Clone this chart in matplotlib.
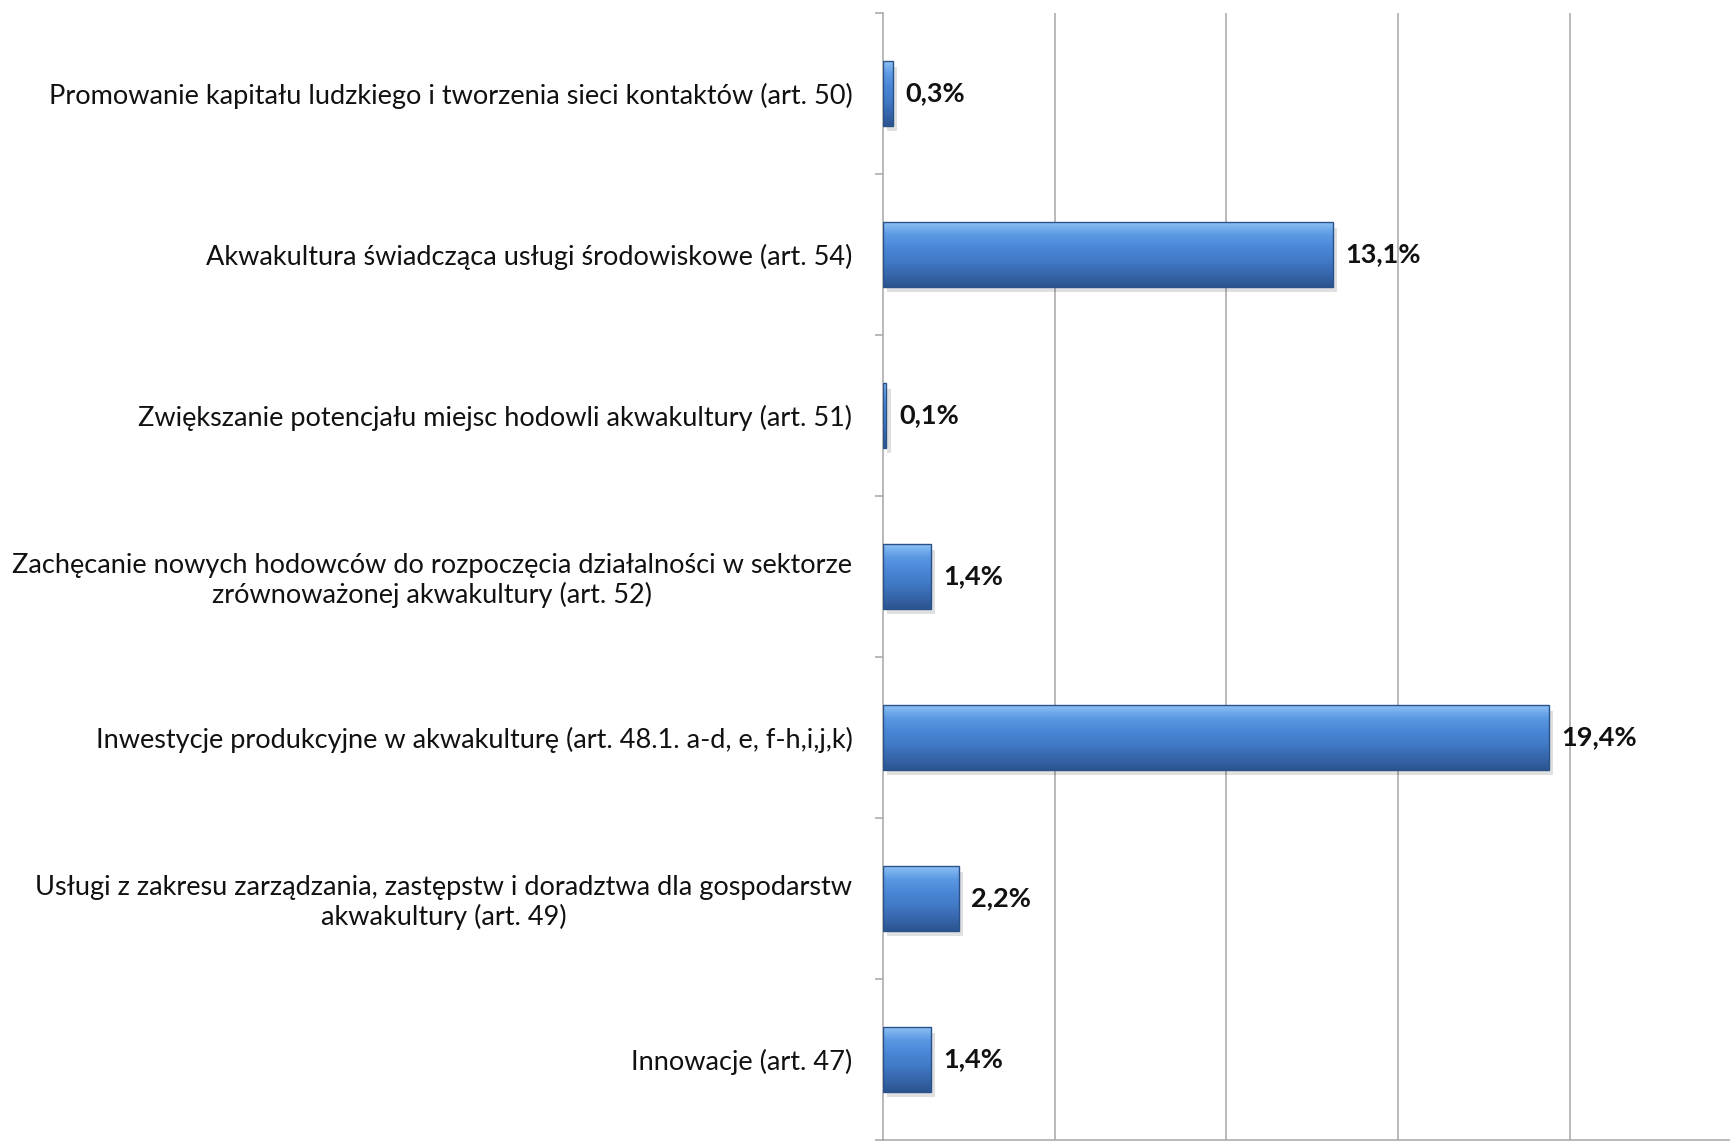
import numpy as np
import matplotlib
matplotlib.use("Agg")
import matplotlib.pyplot as plt
from matplotlib.colors import LinearSegmentedColormap
from matplotlib.patches import Rectangle

plt.rcParams["font.family"] = ["Lato", "DejaVu Sans"]

# data, top to bottom as in the chart
categories = [
    "Promowanie kapitału ludzkiego i tworzenia sieci kontaktów (art. 50)",
    "Akwakultura świadcząca usługi środowiskowe (art. 54)",
    "Zwiększanie potencjału miejsc hodowli akwakultury (art. 51)",
    "Zachęcanie nowych hodowców do rozpoczęcia działalności w sektorze\nzrównoważonej akwakultury (art. 52)",
    "Inwestycje produkcyjne w akwakulturę (art. 48.1. a-d, e, f-h,i,j,k)",
    "Usługi z zakresu zarządzania, zastępstw i doradztwa dla gospodarstw\nakwakultury (art. 49)",
    "Innowacje (art. 47)",
]
values = [0.3, 13.1, 0.1, 1.4, 19.4, 2.2, 1.4]
value_labels = ["0,3%", "13,1%", "0,1%", "1,4%", "19,4%", "2,2%", "1,4%"]

W, H = 1731, 1141
fig = plt.figure(figsize=(W / 100, H / 100), dpi=100)
x0, x25 = 883, 1741.5
top_px, bot_px = 13, 1140
ax = fig.add_axes([x0 / W, 1 - bot_px / H, (x25 - x0) / W, (bot_px - top_px) / H])

n = len(categories)
ypos = np.arange(n)[::-1]
bar_h = 0.4

cmap = LinearSegmentedColormap.from_list(
    "bevel", ["#8cc0f5", "#5a98e2", "#4a86d6", "#417ac6", "#3767ad", "#2c5590"])
grad = np.linspace(0, 1, 100).reshape(-1, 1)

for y, v, lab in zip(ypos, values, value_labels):
    # soft shadow
    ax.add_patch(Rectangle((0.12, y - bar_h / 2 - 0.035), v, bar_h, facecolor="#000000",
                           alpha=0.12, edgecolor="none", zorder=2))
    ax.imshow(grad, extent=[0, v, y - bar_h / 2, y + bar_h / 2], aspect="auto",
              cmap=cmap, origin="upper", zorder=3, interpolation="bilinear")
    ax.add_patch(Rectangle((0, y - bar_h / 2), v, bar_h, facecolor="none",
                           edgecolor="#2b5288", linewidth=1.0, zorder=4))
    ax.annotate(lab, (v, y), xytext=(9, 0), textcoords="offset points",
                ha="left", va="center", fontsize=19.5, fontweight="bold", color="#111111")

ax.set_xlim(0, 25)
ax.set_ylim(-0.5, n - 0.5)
ax.set_xticks([5, 10, 15, 20])
ax.xaxis.grid(True, color="#a6a6a6", linewidth=1.1)
ax.set_axisbelow(True)
ax.tick_params(axis="x", length=0, labelbottom=False)

ax.set_yticks(ypos)
ax.set_yticklabels(categories, fontsize=19.5, color="#111111", multialignment="center",
                   linespacing=1.15)
ax.set_yticks(np.arange(-0.5, n, 1), minor=True)
ax.tick_params(axis="y", which="major", length=0, pad=22)
ax.tick_params(axis="y", which="minor", length=6, color="#a6a6a6", width=1.1)

for s in ["top", "right"]:
    ax.spines[s].set_visible(False)
for s in ["left", "bottom"]:
    ax.spines[s].set_color("#a6a6a6")
    ax.spines[s].set_linewidth(1.1)

fig.savefig("out.png", dpi=100)
